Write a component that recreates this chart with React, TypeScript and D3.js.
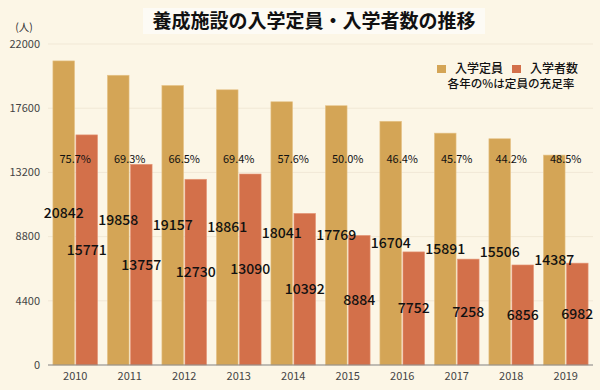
import React, { useEffect, useRef } from 'react';
import * as d3 from 'd3';

const years = ['2010', '2011', '2012', '2013', '2014', '2015', '2016', '2017', '2018', '2019'];
const capacity = [20842, 19858, 19157, 18861, 18041, 17769, 16704, 15891, 15506, 14387];
const enrolled = [15771, 13757, 12730, 13090, 10392, 8884, 7752, 7258, 6856, 6982];
const fillRate = ['75.7%', '69.3%', '66.5%', '69.4%', '57.6%', '50.0%', '46.4%', '45.7%', '44.2%', '48.5%'];
const yTicks = [0, 4400, 8800, 13200, 17600, 22000];

const GOLD = '#d4a556';
const ORANGE = '#d3704a';
const FONT = '"Noto Sans CJK JP", "Noto Sans", sans-serif';

const App = () => {
  const ref = useRef<SVGSVGElement>(null);

  useEffect(() => {
    const svg = d3.select(ref.current);
    svg.selectAll('*').remove();
    const W = 600, H = 390;
    const margin = { top: 44, right: 7, bottom: 25, left: 48 };
    const cw = W - margin.left - margin.right;
    const ch = H - margin.top - margin.bottom;

    svg.append('rect').attr('width', W).attr('height', H).attr('fill', '#fcf6e6');

    const x = d3.scaleBand().domain(years).range([0, cw]).paddingInner(0.18).paddingOuter(0.09);
    const sub = d3.scaleBand().domain(['cap', 'enr']).range([0, x.bandwidth()]).paddingInner(0.06);
    const y = d3.scaleLinear().domain([0, 22000]).range([ch, 0]);

    const g = svg.append('g').attr('transform', `translate(${margin.left},${margin.top})`);

    // grid
    g.selectAll('line.grid')
      .data(yTicks)
      .enter()
      .append('line')
      .attr('x1', 0)
      .attr('x2', cw)
      .attr('y1', d => y(d))
      .attr('y2', d => y(d))
      .attr('stroke', '#f1e8d6')
      .attr('stroke-width', 1);

    g.selectAll('text.ytick')
      .data(yTicks)
      .enter()
      .append('text')
      .attr('x', -8)
      .attr('y', d => y(d))
      .attr('dy', '0.35em')
      .attr('text-anchor', 'end')
      .attr('font-size', 11)
      .attr('fill', '#444')
      .attr('font-family', FONT)
      .text(d => d);

    // bars
    years.forEach((yr, i) => {
      const x0 = x(yr)!;
      g.append('rect')
        .attr('x', x0 + sub('cap')!)
        .attr('y', y(capacity[i]))
        .attr('width', sub.bandwidth())
        .attr('height', ch - y(capacity[i]))
        .attr('fill', GOLD)
        .attr('stroke', '#e6c489')
        .attr('stroke-width', 0.6);
      g.append('rect')
        .attr('x', x0 + sub('enr')!)
        .attr('y', y(enrolled[i]))
        .attr('width', sub.bandwidth())
        .attr('height', ch - y(enrolled[i]))
        .attr('fill', ORANGE)
        .attr('stroke', '#e69a7c')
        .attr('stroke-width', 0.6);
    });

    // axis
    g.append('line')
      .attr('x1', 0)
      .attr('x2', cw)
      .attr('y1', ch)
      .attr('y2', ch)
      .attr('stroke', '#888')
      .attr('stroke-width', 1.2);

    g.selectAll('text.xtick')
      .data(years)
      .enter()
      .append('text')
      .attr('x', d => x(d)! + x.bandwidth() / 2)
      .attr('y', ch + 15)
      .attr('text-anchor', 'middle')
      .attr('font-size', 11)
      .attr('fill', '#444')
      .attr('font-family', FONT)
      .text(d => d);

    // value labels
    years.forEach((yr, i) => {
      const x0 = x(yr)!;
      g.append('text')
        .attr('x', x0 + sub('cap')! + sub.bandwidth() / 2)
        .attr('y', (y(capacity[i]) + ch) / 2)
        .attr('dy', '0.35em')
        .attr('text-anchor', 'middle')
        .attr('font-size', 14)
        .attr('font-weight', 500)
        .attr('fill', '#111')
        .attr('font-family', FONT)
        .text(capacity[i]);
      g.append('text')
        .attr('x', x0 + sub('enr')! + sub.bandwidth() / 2)
        .attr('y', (y(enrolled[i]) + ch) / 2)
        .attr('dy', '0.35em')
        .attr('text-anchor', 'middle')
        .attr('font-size', 14)
        .attr('font-weight', 500)
        .attr('fill', '#111')
        .attr('font-family', FONT)
        .text(enrolled[i]);
      g.append('text')
        .attr('x', x0 + x.bandwidth() / 2)
        .attr('y', y(14100))
        .attr('dy', '0.35em')
        .attr('text-anchor', 'middle')
        .attr('font-size', 11)
        .attr('fill', '#111')
        .attr('font-family', FONT)
        .text(fillRate[i]);
    });

    // unit
    svg.append('text')
      .attr('x', 24)
      .attr('y', 27)
      .attr('dy', '0.35em')
      .attr('text-anchor', 'middle')
      .attr('font-size', 10.5)
      .attr('fill', '#333')
      .attr('font-family', FONT)
      .text('(人)');

    // title
    svg.append('rect')
      .attr('x', 143)
      .attr('y', 8)
      .attr('width', 342)
      .attr('height', 26)
      .attr('fill', '#fdfbf5');
    svg.append('text')
      .attr('x', 314)
      .attr('y', 21)
      .attr('dy', '0.35em')
      .attr('text-anchor', 'middle')
      .attr('font-size', 19)
      .attr('font-weight', 'bold')
      .attr('fill', '#111')
      .attr('font-family', FONT)
      .text('養成施設の入学定員・入学者数の推移');

    // legend
    const legend = [
      { label: '入学定員', color: GOLD, x: 437 },
      { label: '入学者数', color: ORANGE, x: 512 },
    ];
    legend.forEach(l => {
      svg.append('rect').attr('x', l.x).attr('y', 65).attr('width', 9).attr('height', 8).attr('fill', l.color);
      svg.append('text')
        .attr('x', l.x + 18)
        .attr('y', 69)
        .attr('dy', '0.35em')
        .attr('font-size', 12)
        .attr('font-weight', 500)
        .attr('fill', '#111')
        .attr('font-family', FONT)
        .text(l.label);
    });
    svg.append('text')
      .attr('x', 511)
      .attr('y', 84)
      .attr('dy', '0.35em')
      .attr('text-anchor', 'middle')
      .attr('font-size', 11.6)
      .attr('font-weight', 500)
      .attr('fill', '#111')
      .attr('font-family', FONT)
      .text('各年の%は定員の充足率');
  }, []);

  return (
    <svg
      ref={ref}
      width={600}
      height={390}
      style={{ position: 'absolute', left: 0, top: 0, display: 'block' }}
    />
  );
};

export default App;
